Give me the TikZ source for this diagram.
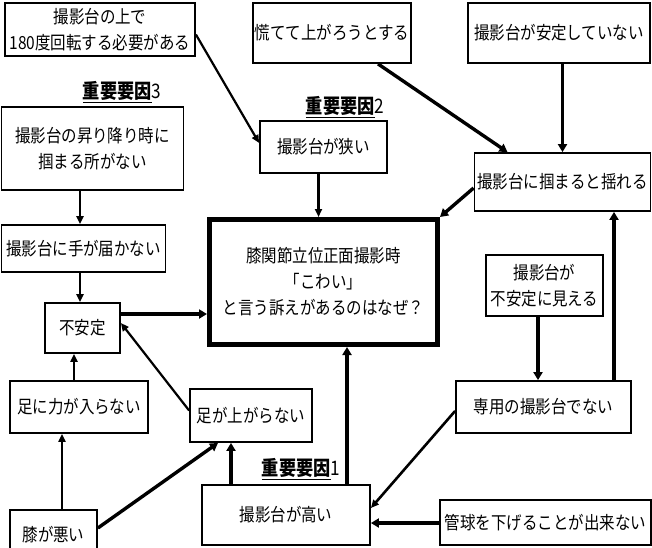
\documentclass[tikz,border=0pt]{standalone}
\usepackage{fontspec}
\setmainfont{Noto Sans CJK JP}[FakeStretch=0.86]
\usetikzlibrary{arrows.meta,calc}
\tikzset{
  box/.style={draw, line width=1.8pt, inner sep=0pt, align=center, fill=white,
    font=\fontsize{18}{26}\selectfont},
  mainbox/.style={box, line width=5pt},
  keylabel/.style={inner sep=0pt, font=\fontsize{20}{22}\selectfont},
  thinarrow/.style={line width=2.2pt, -{Triangle[length=8pt,width=7pt]}},
  thickarrow/.style={line width=3.4pt, -{Triangle[length=8pt,width=9pt]}}
}
\begin{document}
\begin{tikzpicture}[x=1pt,y=-1pt]
\useasboundingbox (0,0) rectangle (652,547);
% boxes
\node[box, minimum width=190pt, minimum height=53pt] (b1) at (100,29.5) {撮影台の上で\\180度回転する必要がある};
\node[box, minimum width=158pt, minimum height=60pt] (b2) at (332,33) {慌てて上がろうとする};
\node[box, minimum width=182pt, minimum height=60pt] (b3) at (559,33) {撮影台が安定していない};
\node[keylabel] (k3) at (122,92) {\underline{\bfseries 重要要因}3};
\node[box, minimum width=182pt, minimum height=83pt] (b4) at (92.5,148.5) {撮影台の昇り降り時に\\掴まる所がない};
\node[keylabel] (k2) at (345,107) {\underline{\bfseries 重要要因}2};
\node[box, minimum width=127pt, minimum height=52pt] (b5) at (323.5,147) {撮影台が狭い};
\node[box, minimum width=176pt, minimum height=58pt] (b6) at (562.5,182) {撮影台に掴まると揺れる};
\node[box, minimum width=164pt, minimum height=47pt] (b7) at (83.5,248.5) {撮影台に手が届かない};
\node[mainbox, minimum width=228pt, minimum height=125pt] (c) at (323.5,282) {膝関節立位正面撮影時\\「こわい」\\と言う訴えがあるのはなぜ？};
\node[box, minimum width=75pt, minimum height=50pt] (b9) at (82.5,328) {不安定};
\node[box, minimum width=117pt, minimum height=61pt] (b10) at (544.5,285.5) {撮影台が\\不安定に見える};
\node[box, minimum width=175pt, minimum height=52pt] (b11) at (543.5,407) {専用の撮影台でない};
\node[box, minimum width=138pt, minimum height=52pt] (b12) at (79,407) {足に力が入らない};
\node[box, minimum width=122pt, minimum height=53pt] (b13) at (251,415.5) {足が上がらない};
\node[keylabel] (k1) at (301,469) {\underline{\bfseries 重要要因}1};
\node[box, minimum width=168pt, minimum height=60pt] (b14) at (286,515) {撮影台が高い};
\node[box, minimum width=211pt, minimum height=45pt] (b15) at (545.5,522.5) {管球を下げることが出来ない};
\node[box, minimum width=87pt, minimum height=50pt] (b16) at (53.5,535) {膝が悪い};
% arrows
\draw[thinarrow] ([yshift=-5pt]b1.east) -- ([yshift=4pt]b5.west);
\draw[thickarrow] ([xshift=46pt]b2.south) -- ([xshift=-55pt]b6.north);
\draw[thickarrow] (b6.north |- b3.south) -- (b6.north);
\draw[thickarrow] ([yshift=-6pt]b6.west) -- (c.north east);
\draw[thinarrow] ([xshift=-5pt]b5.south) -- ([xshift=-5pt]b5.south |- c.north);
\draw[thinarrow] ([xshift=-2.5pt]b4.south -| b9.north) -- ([xshift=-2.5pt]b9.north |- b7.north);
\draw[thinarrow] ([xshift=-2.5pt]b9.north |- b7.south) -- ([xshift=-2.5pt]b9.north);
\draw[thickarrow] ([yshift=14pt]b9.east) -- ([yshift=14pt]b9.east -| c.west);
\draw[thinarrow] ([xshift=-8.5pt]b9.south |- b12.north) -- ([xshift=-8.5pt]b9.south);
\draw[thinarrow] ([yshift=5pt]b13.west) -- ([yshift=5pt]b9.east);
\draw[thinarrow] ([xshift=8.5pt]b16.north) -- ([xshift=8.5pt]b16.north |- b12.south);
\draw[thickarrow] ([yshift=7pt]b16.east) -- ([xshift=-33pt]b13.south);
\draw[thickarrow] ([xshift=-20pt]b13.south |- b14.north) -- ([xshift=-20pt]b13.south);
\draw[thickarrow] ([xshift=23.5pt]c.south |- b14.north) -- ([xshift=23.5pt]c.south);
\draw[thickarrow] ([xshift=-6.5pt]b10.south) -- ([xshift=-6.5pt]b10.south |- b11.north);
\draw[thickarrow] ([xshift=70.5pt]b11.north) -- ([xshift=70.5pt]b11.north |- b6.south);
\draw[thinarrow, line width=2.6pt] ([yshift=-4pt]b11.west) -- ([yshift=7pt]b14.east);
\draw[thickarrow] ([yshift=-0.5pt]b15.west) -- ([yshift=-0.5pt]b15.west -| b14.east);
\end{tikzpicture}
\end{document}
